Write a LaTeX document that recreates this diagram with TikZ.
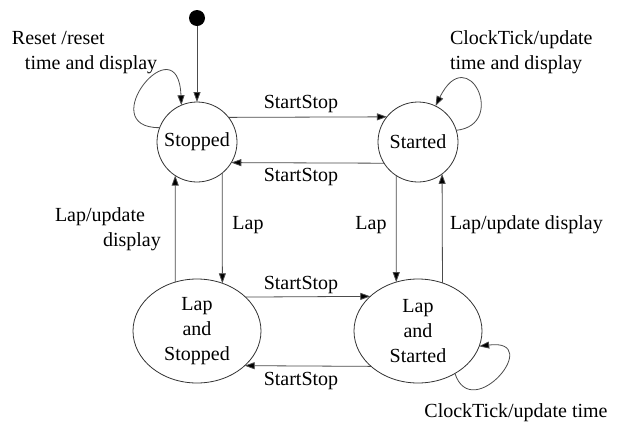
\documentclass[tikz,border=0pt]{standalone}
\usepackage{fontspec}
\setmainfont{Liberation Serif}
\usetikzlibrary{arrows.meta,shapes.geometric}
\begin{document}
\begin{tikzpicture}[x=1pt,y=-1pt,
  every node/.style={font=\fontsize{20}{25}\selectfont, inner sep=0pt, outer sep=0pt},
  statecirc/.style={draw=black!80, line width=0.8pt, circle, minimum size=80pt, align=center},
  stateell/.style={draw=black!80, line width=0.8pt, ellipse, minimum width=128pt, minimum height=104pt, align=center},
  trans/.style={draw=black!70, line width=0.8pt, -{Triangle[length=10pt,width=7pt,fill=black]}},
  lbl/.style={align=left}]
\useasboundingbox (0,0) rectangle (618,432);
\fill[white] (0,0) rectangle (618,432);

\node[circle, fill=black, minimum size=16pt] (init) at (197,18) {};
\node[statecirc] (stopped) at (197,142) {Stopped};
\node[statecirc] (started) at (418,142) {Started};
\node[stateell] (ls) at (197,331) {Lap\\and\\Stopped};
\node[stateell] (lst) at (418,331) {Lap\\and\\Started};

% initial
\draw[trans] (init) -- (stopped);

% horizontal top pair
\draw[trans] (stopped.38.7) -- (started.141.3);
\draw[trans] (started.-148.3) -- (stopped.-31.7);
\node (l1) at (301,104) {StartStop};
\node (l2) at (301,177) {StartStop};

% bottom pair
\draw[trans] (ls.35.1) -- (lst.144.9);
\draw[trans] (lst.-143.5) -- (ls.-36.5);
\node (l3) at (301,285) {StartStop};
\node (l4) at (301,381) {StartStop};

% verticals left
\draw[trans] (stopped.-51.3) -- (ls.62.4);
\draw[trans] (ls.114.3) -- (stopped.-123.4);
\node (l5) at (248,225) {Lap};
\node[lbl, anchor=north west] (l6) at (55,208) {Lap/update\\\hspace*{48pt}display};

% verticals right
\draw[trans] (started.-123.4) -- (lst.114.3);
\draw[trans] (lst.63.5) -- (started.-53.1);
\node (l7) at (371,225) {Lap};
\node[anchor=west] (l8) at (450,225) {Lap/update display};

% self loops
\draw[trans] (stopped.159) .. controls (92,128) and (178,22) .. (stopped.113);
\node[lbl, anchor=north west] (l9) at (12,31) {Reset /reset\\\hspace*{13pt}time and display};

\draw[trans] (started.17) .. controls (508,125) and (468,40) .. (started.64);
\node[lbl, anchor=north west] (l10) at (450,31) {ClockTick/update\\time and display};

\draw[trans] (lst.-49) .. controls (472,425) and (545,338) .. (lst.-14);
\node (l11) at (516,413) {ClockTick/update time};
\end{tikzpicture}
\end{document}
